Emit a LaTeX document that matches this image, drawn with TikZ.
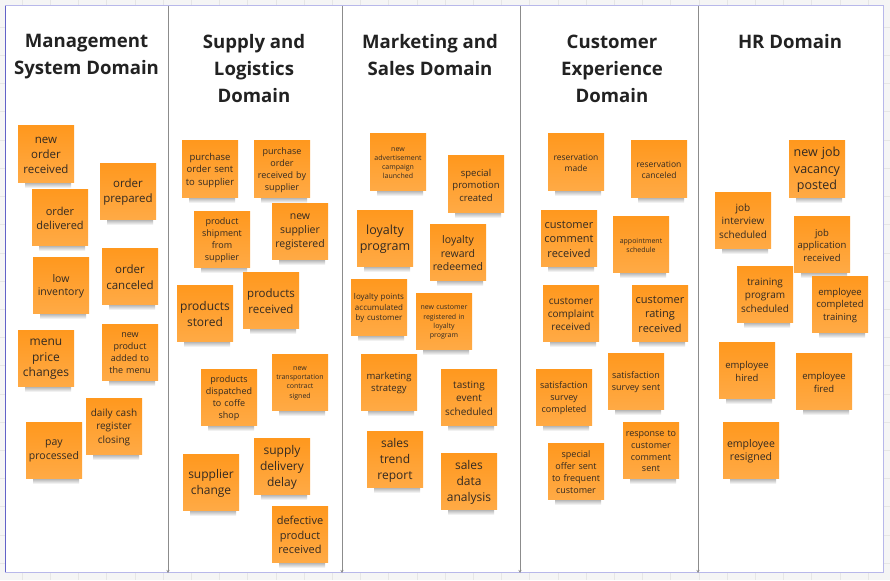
\documentclass[tikz,border=0pt]{standalone}
\usepackage{fontspec}
\setmainfont{Open Sans}
\usetikzlibrary{arrows.meta}
\definecolor{bggray}{HTML}{F5F5F5}
\definecolor{gridgray}{HTML}{E6E6E6}
\definecolor{framelav}{HTML}{B8B8EA}
\definecolor{frameleft}{HTML}{6262C8}
\definecolor{divgray}{HTML}{8C8C8C}
\definecolor{notetop}{HTML}{FF981E}
\definecolor{notebot}{HTML}{FFAA45}
\definecolor{notetext}{HTML}{332A22}
\definecolor{titletext}{HTML}{222222}
\newcommand\sticky[5]{%
  \shade[top color=black!45, bottom color=white] (#2+7,#3+54) rectangle (#2+53,#3+62);
  \node[stickynote] (#1) at (#2+28,#3+28) {};
  \node[stickylabel, font=\fontsize{#4}{\fpeval{1.32*#4}}\selectfont] (#1text) at ([yshift=-1.2pt]#1.center) {#5};
}
\begin{document}
\begin{tikzpicture}[x=1pt,y=-1pt,
  stickynote/.style={minimum width=56, minimum height=56, inner sep=0pt,
    top color=notetop, bottom color=notebot},
  stickylabel/.style={inner sep=0pt, text width=53, align=center, text=notetext},
  domaintitle/.style={anchor=north, align=center, inner sep=0pt, text=titletext,
    font=\bfseries\fontsize{18.6}{27}\selectfont},
  divider/.style={divgray, line width=0.8pt, -{Stealth[length=3pt,width=3pt]}}]
\useasboundingbox (0,0) rectangle (890,580);
\fill[bggray] (0,0) rectangle (890,580);
\foreach \gx in {22,50.2,...,890} \draw[gridgray, line width=0.6pt] (\gx,0) -- (\gx,580);
\foreach \gy in {27.2,55.4,...,580} \draw[gridgray, line width=0.6pt] (0,\gy) -- (890,\gy);
% frame
\coordinate (ftl) at (5,6);
\coordinate (fbr) at (883,572);
\fill[white] (ftl) rectangle (fbr);
\draw[framelav, line width=1pt] (ftl) rectangle (fbr);
\draw[frameleft, line width=1pt] (5,6) -- (5,572);
% dividers
\foreach \dx [count=\i] in {168,342,520,698} {
  \coordinate (dt\i) at (\dx,6);
  \coordinate (db\i) at (\dx,573);
  \draw[divider] (dt\i) -- (db\i);
}
% titles
\node[domaintitle] (t1) at (86.5,34.5) {Management\\System Domain};
\node[domaintitle] (t2) at (254,34.5) {Supply and\\Logistics\\Domain};
\node[domaintitle] (t3) at (430,34.5) {Marketing and\\Sales Domain};
\node[domaintitle] (t4) at (612,34.5) {Customer\\Experience\\Domain};
\node[domaintitle] (t5) at (790,34.5) {HR Domain};
% Management System Domain
\sticky{n1}{18}{126}{11.5}{new\\order\\received}
\sticky{n2}{100}{163}{11.5}{order\\prepared}
\sticky{n3}{32}{189}{11}{order\\delivered}
\sticky{n4}{33}{257}{10.5}{low\\inventory}
\sticky{n5}{102}{248}{11.5}{order\\canceled}
\sticky{n6}{18}{330}{12}{menu\\price\\changes}
\sticky{n7}{102}{324}{9}{new\\product\\added to\\the menu}
\sticky{n8}{86}{398}{10}{daily cash\\register\\closing}
\sticky{n9}{26}{422}{10.5}{pay\\processed}
% Supply and Logistics
\sticky{s1}{182}{141}{9.5}{purchase\\order sent\\to supplier}
\sticky{s2}{254}{141}{9}{purchase\\order\\received by\\supplier}
\sticky{s3}{194}{211}{9}{product\\shipment\\from\\supplier}
\sticky{s4}{272}{203}{10.5}{new\\supplier\\registered}
\sticky{s5}{177}{285}{12}{products\\stored}
\sticky{s6}{243}{272}{11.5}{products\\received}
\sticky{s7}{272}{354}{7}{new\\transportation\\contract\\signed}
\sticky{s8}{201}{369}{9}{products\\dispatched\\to coffe\\shop}
\sticky{s9}{254}{438}{12}{supply\\delivery\\delay}
\sticky{s10}{183}{454}{12}{supplier\\change}
\sticky{s11}{272}{506}{11}{defective\\product\\received}
% Marketing and Sales
\sticky{m1}{370}{134}{7}{new\\advertisement\\campaign\\launched}
\sticky{m2}{448}{156}{9.5}{special\\promotion\\created}
\sticky{m3}{357}{210}{12.5}{loyalty\\program}
\sticky{m4}{430}{224}{10.5}{loyalty\\reward\\redeemed}
\sticky{m5}{351}{279}{8}{loyalty points\\accumulated\\by customer}
\sticky{m6}{416}{293}{7}{new customer\\registered in\\loyalty\\program}
\sticky{m7}{361}{354}{9.5}{marketing\\strategy}
\sticky{m8}{441}{369}{10}{tasting\\event\\scheduled}
\sticky{m9}{367}{431}{12}{sales\\trend\\report}
\sticky{m10}{441}{453}{12}{sales\\data\\analysis}
% Customer Experience
\sticky{c1}{548}{134}{8.5}{reservation\\made}
\sticky{c2}{631}{141}{8.5}{reservation\\canceled}
\sticky{c3}{541}{210}{11}{customer\\comment\\received}
\sticky{c4}{613}{216}{7}{appointment\\schedule}
\sticky{c5}{543}{285}{10}{customer\\complaint\\received}
\sticky{c6}{632}{285}{11}{customer\\rating\\received}
\sticky{c7}{608}{353}{9}{satisfaction\\survey sent}
\sticky{c8}{536}{369}{9}{satisfaction\\survey\\completed}
\sticky{c9}{623}{422}{9}{response to\\customer\\comment\\sent}
\sticky{c10}{548}{443}{9}{special\\offer sent\\to frequent\\customer}
% HR
\sticky{h1}{789}{141}{12.5}{new job\\vacancy\\posted}
\sticky{h2}{715}{192}{10}{job\\interview\\scheduled}
\sticky{h3}{794}{216}{9.5}{job\\application\\received}
\sticky{h4}{737}{266}{10}{training\\program\\scheduled}
\sticky{h5}{812}{276}{9.5}{employee\\completed\\training}
\sticky{h6}{719}{342}{9.5}{employee\\hired}
\sticky{h7}{796}{353}{9.5}{employee\\fired}
\sticky{h8}{723}{422}{10.5}{employee\\resigned}
\end{tikzpicture}
\end{document}
